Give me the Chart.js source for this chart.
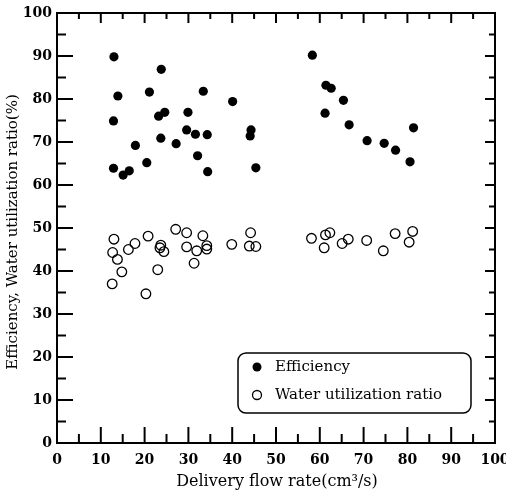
<!DOCTYPE html>
<html>
<head>
<meta charset="utf-8">
<script src="https://cdn.jsdelivr.net/npm/chart.js@4.4.0/dist/chart.umd.min.js"></script>
<style>
  html, body { margin: 0; padding: 0; background: #fff; }
</style>
</head>
<body>
<canvas id="myChart" width="506" height="495"></canvas>
<script>
// data
const effX = [13.0, 23.8, 13.9, 21.1, 33.4, 23.2, 24.6, 29.9, 12.9, 29.6, 31.6, 34.3, 23.7, 27.2, 17.9, 32.1, 20.5, 12.9, 15.1, 16.5, 34.4,
              40.1, 44.3, 44.1, 45.4,
              58.3, 61.4, 62.6, 65.4, 61.2, 66.7, 81.4, 70.8, 74.7, 77.3, 80.6];
const effY = [89.8, 86.9, 80.7, 81.6, 81.8, 76.0, 76.9, 76.9, 74.9, 72.8, 71.8, 71.7, 70.9, 69.6, 69.2, 66.8, 65.2, 63.9, 62.3, 63.3, 63.1,
              79.4, 72.8, 71.4, 64.0,
              90.2, 83.2, 82.5, 79.7, 76.7, 74.0, 73.3, 70.3, 69.7, 68.1, 65.4];
const wurX = [13.0, 20.8, 27.1, 29.6, 33.3, 17.8, 16.3, 12.7, 13.8, 23.7, 23.5, 24.4, 29.6, 31.9, 34.2, 34.2, 31.3, 14.8, 23.0, 12.6, 20.3,
              39.9, 44.2, 43.9, 45.4, 58.1,
              61.3, 62.3, 61.0, 66.5, 65.1, 70.7, 74.5, 77.2, 81.2, 80.4];
const wurY = [47.4, 48.1, 49.7, 48.9, 48.2, 46.4, 45.0, 44.3, 42.7, 46.0, 45.4, 44.5, 45.6, 44.7, 45.9, 45.1, 41.8, 39.8, 40.3, 37.0, 34.7,
              46.2, 48.9, 45.8, 45.7, 47.6,
              48.4, 48.9, 45.4, 47.4, 46.4, 47.1, 44.7, 48.7, 49.2, 46.7];

const xTicks = [0, 10, 20, 30, 40, 50, 60, 70, 80, 90, 100];
const yTicks = [0, 10, 20, 30, 40, 50, 60, 70, 80, 90, 100];
const seriesNames = ["Efficiency", "Water utilization ratio"];
const xTitle = "Delivery flow rate(cm\u00b3/s)";
const yTitle = "Efficiency, Water utilization ratio(%)";

function toPoints(xs, ys) {
  return xs.map(function(x, i) { return { x: x, y: ys[i] }; });
}

const serif = '"DejaVu Serif", serif';

// frame, inward ticks, labels, titles and the boxed legend
const framePlugin = {
  id: 'frame',
  afterDraw: function(chart) {
    const ctx = chart.ctx;
    const a = chart.chartArea;
    const sx = chart.scales.x;
    const sy = chart.scales.y;
    ctx.save();
    ctx.strokeStyle = '#000';
    ctx.fillStyle = '#000';
    ctx.lineWidth = 2;
    ctx.strokeRect(a.left, a.top, a.right - a.left, a.bottom - a.top);

    function line(x1, y1, x2, y2) {
      ctx.beginPath();
      ctx.moveTo(x1, y1);
      ctx.lineTo(x2, y2);
      ctx.stroke();
    }
    for (let v = 5; v < 100; v += 5) {
      const major = v % 10 === 0;
      const px = sx.getPixelForValue(v);
      const py = sy.getPixelForValue(v);
      line(px, a.bottom, px, a.bottom - (major ? 16 : 9));
      line(px, a.top, px, a.top + (major ? 10 : 6));
      line(a.left, py, a.left + (major ? 16 : 9), py);
      line(a.right, py, a.right - (major ? 10 : 6), py);
    }

    // tick labels
    ctx.font = 'bold 14px ' + serif;
    ctx.textBaseline = 'middle';
    ctx.textAlign = 'right';
    yTicks.forEach(function(v) {
      ctx.fillText(String(v), a.left - 5, sy.getPixelForValue(v));
    });
    ctx.textAlign = 'center';
    xTicks.forEach(function(v) {
      ctx.fillText(String(v), sx.getPixelForValue(v), a.bottom + 17);
    });

    // axis titles
    ctx.font = '16px ' + serif;
    ctx.fillText(xTitle, 277, a.bottom + 39);
    ctx.save();
    ctx.translate(13, 232);
    ctx.rotate(-Math.PI / 2);
    ctx.font = '15px ' + serif;
    ctx.fillText(yTitle, 0, 0);
    ctx.restore();

    // legend box
    const bx = 238, by = 353, bw = 233, bh = 60, r = 8;
    ctx.lineWidth = 1.5;
    ctx.beginPath();
    ctx.roundRect(bx, by, bw, bh, r);
    ctx.stroke();
    chart.data.datasets.forEach(function(ds, i) {
      const ly = by + 14 + i * 28;
      ctx.beginPath();
      ctx.arc(bx + 19, ly, 4.5, 0, Math.PI * 2);
      if (ds.backgroundColor === '#000') {
        ctx.fill();
      } else {
        ctx.lineWidth = 1.3;
        ctx.stroke();
      }
      ctx.textAlign = 'left';
      ctx.font = '15px ' + serif;
      ctx.fillText(ds.label, bx + 37, ly);
    });
    ctx.restore();
  }
};

const ctx = document.getElementById('myChart');
const myChart = new Chart(ctx, {
  type: 'scatter',
  data: {
    datasets: [{
      label: seriesNames[0],
      data: toPoints(effX, effY),
      backgroundColor: '#000',
      borderColor: '#000',
      pointRadius: 4.6,
      pointBorderWidth: 0
    }, {
      label: seriesNames[1],
      data: toPoints(wurX, wurY),
      backgroundColor: 'rgba(0,0,0,0)',
      borderColor: '#000',
      pointRadius: 4.8,
      pointBorderWidth: 1.3
    }]
  },
  options: {
    responsive: false,
    animation: false,
    layout: { padding: { left: 57, top: 13, right: 11, bottom: 52 } },
    plugins: {
      legend: { display: false },
      tooltip: { enabled: false }
    },
    scales: {
      x: { type: 'linear', min: 0, max: 100, display: false },
      y: { type: 'linear', min: 0, max: 100, display: false }
    }
  },
  plugins: [framePlugin]
});
</script>
</body>
</html>
